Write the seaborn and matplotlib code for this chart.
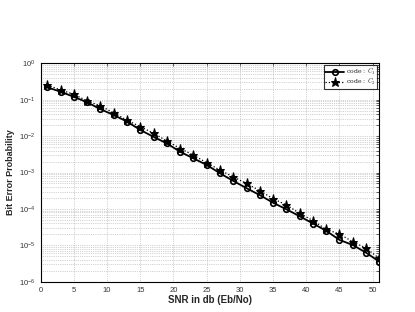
import numpy as np
import pandas as pd
import matplotlib
matplotlib.use('Agg')
import matplotlib.pyplot as plt
import seaborn as sns

# SNR points (dB) and bit error probabilities
snr = [1, 3, 5, 7, 9, 11, 13, 15, 17, 19, 21, 23, 25,
       27, 29, 31, 33, 35, 37, 39, 41, 43, 45, 47, 49, 51]
ber_c1 = [0.219, 0.166, 0.120, 0.0851, 0.0550, 0.0380, 0.0251, 0.0148, 0.00955,
          0.00631, 0.00372, 0.00245, 0.00162, 9.55e-4, 5.89e-4, 3.72e-4, 2.40e-4,
          1.48e-4, 9.77e-5, 6.31e-5, 3.98e-5, 2.51e-5, 1.41e-5, 1.02e-5, 6.31e-6, 3.55e-6]
ber_c2 = [0.251, 0.186, 0.141, 0.0933, 0.0676, 0.0437, 0.0275, 0.0182, 0.0120,
          0.00741, 0.00457, 0.00302, 0.00186, 0.00117, 7.59e-4, 5.01e-4, 3.16e-4,
          1.91e-4, 1.29e-4, 7.59e-5, 4.79e-5, 2.75e-5, 2.04e-5, 1.26e-5, 8.32e-6, 4.37e-6]
labels = ['code : $C_1$', 'code : $C_2$']

sns.set_style('white')
plt.rcParams['font.family'] = ['Liberation Sans', 'DejaVu Sans']
plt.rcParams['mathtext.fontset'] = 'cm'

df1 = pd.DataFrame({'snr': snr, 'ber': ber_c1})
df2 = pd.DataFrame({'snr': snr, 'ber': ber_c2})

fig = plt.figure(figsize=(4.15, 3.12), dpi=100)
ax = fig.add_axes([0.098, 0.097, 0.816, 0.700])

sns.lineplot(data=df2, x='snr', y='ber', ax=ax, color='black', linestyle=':',
             linewidth=0.9, marker='*', markersize=6.5, markerfacecolor='black',
             markeredgecolor='black', label=labels[1], zorder=3)
sns.lineplot(data=df1, x='snr', y='ber', ax=ax, color='black', linestyle='-',
             linewidth=1.3, marker='o', markersize=4, markerfacecolor='none',
             markeredgecolor='black', markeredgewidth=1.2, label=labels[0], zorder=4)

ax.set_yscale('log')
ax.set_xlim(0, 51)
ax.set_ylim(1e-6, 1)
ax.set_xticks(range(0, 51, 5))
ax.set_yticks([10.0**k for k in range(-6, 1)])

ax.grid(True, which='major', linestyle=':', linewidth=0.5, color='#a8a8a8')
ax.grid(True, which='minor', axis='y', linestyle=':', linewidth=0.5, color='#a8a8a8')
ax.tick_params(axis='both', which='both', labelsize=5.5, direction='in', length=2,
               width=0.5, top=True, right=True, labelcolor='#333333')
for sp in ax.spines.values():
    sp.set_linewidth(0.8)
    sp.set_color('black')

ax.set_xlabel('SNR in db (Eb/No)', fontsize=7, fontweight='bold', labelpad=1)
ax.set_ylabel('Bit Error Probability', fontsize=6.5, fontweight='bold', labelpad=3)

handles, lbls = ax.get_legend_handles_labels()
order = [lbls.index(labels[0]), lbls.index(labels[1])]
leg = ax.legend([handles[i] for i in order], [lbls[i] for i in order],
                loc='upper right', frameon=True, fancybox=False,
                edgecolor='black', borderpad=0.25, handlelength=3, labelspacing=0.05,
                handletextpad=0.4, borderaxespad=0.3,
                prop={'family': 'DejaVu Serif', 'size': 4.5})
leg.get_frame().set_linewidth(0.8)

plt.savefig('out.png', dpi=100)
plt.close()
